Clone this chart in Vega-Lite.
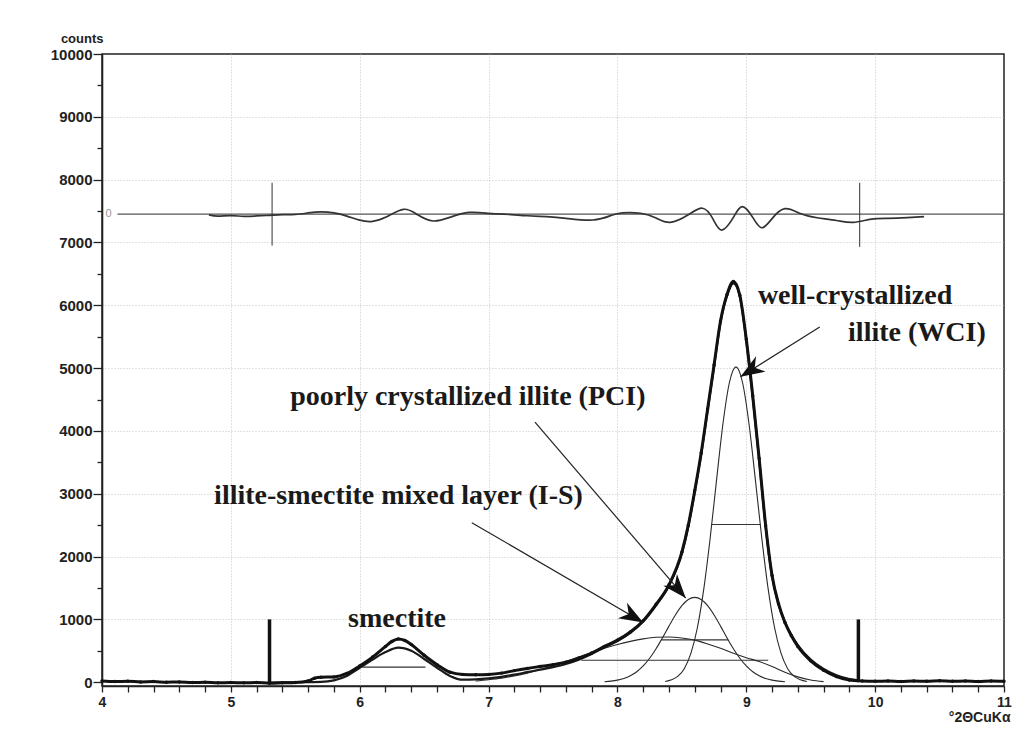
{
"$schema": "https://vega.github.io/schema/vega-lite/v6.json",
"width": 902, "height": 632,
"autosize": {"type": "none"},
"padding": {"left": 102, "top": 54, "right": 8, "bottom": 43},
"background": "white",
"config": {"view": {"stroke": "#222", "strokeWidth": 1.5}, "font": "Liberation Sans"},
"datasets": {
"obs": [{"t":4,"c":20},{"t":4.1,"c":10},{"t":4.2,"c":15},{"t":4.3,"c":5},{"t":4.4,"c":10},{"t":4.5,"c":0},{"t":4.6,"c":5},{"t":4.7,"c":-5},{"t":4.8,"c":0},{"t":4.9,"c":-10},{"t":5,"c":-5},{"t":5.1,"c":-10},{"t":5.2,"c":-5},{"t":5.3,"c":-15},{"t":5.4,"c":-10},{"t":5.5,"c":-5},{"t":5.6,"c":20},{"t":5.65,"c":65},{"t":5.7,"c":80},{"t":5.8,"c":85},{"t":5.9,"c":140},{"t":6,"c":260},{"t":6.1,"c":400},{"t":6.2,"c":570},{"t":6.25,"c":650},{"t":6.3,"c":690},{"t":6.35,"c":665},{"t":6.4,"c":600},{"t":6.5,"c":430},{"t":6.6,"c":280},{"t":6.7,"c":160},{"t":6.8,"c":125},{"t":6.9,"c":120},{"t":7,"c":125},{"t":7.1,"c":145},{"t":7.2,"c":185},{"t":7.3,"c":220},{"t":7.4,"c":250},{"t":7.5,"c":280},{"t":7.6,"c":320},{"t":7.7,"c":385},{"t":7.8,"c":465},{"t":7.9,"c":570},{"t":8,"c":670},{"t":8.1,"c":800},{"t":8.2,"c":980},{"t":8.3,"c":1240},{"t":8.4,"c":1550},{"t":8.5,"c":2070},{"t":8.55,"c":2500},{"t":8.6,"c":3050},{"t":8.65,"c":3650},{"t":8.7,"c":4350},{"t":8.75,"c":5050},{"t":8.8,"c":5750},{"t":8.85,"c":6170},{"t":8.9,"c":6380},{"t":8.95,"c":6160},{"t":9,"c":5460},{"t":9.05,"c":4560},{"t":9.1,"c":3560},{"t":9.15,"c":2500},{"t":9.2,"c":1700},{"t":9.25,"c":1250},{"t":9.3,"c":950},{"t":9.35,"c":740},{"t":9.4,"c":570},{"t":9.5,"c":340},{"t":9.6,"c":190},{"t":9.7,"c":90},{"t":9.8,"c":35},{"t":9.9,"c":20},{"t":10,"c":15},{"t":10.1,"c":20},{"t":10.2,"c":10},{"t":10.3,"c":20},{"t":10.4,"c":15},{"t":10.5,"c":25},{"t":10.6,"c":15},{"t":10.7,"c":20},{"t":10.8,"c":10},{"t":10.9,"c":20},{"t":11,"c":15}],
"fit": [{"t":5.3,"c":-5},{"t":5.5,"c":0},{"t":5.7,"c":5},{"t":5.8,"c":30},{"t":5.9,"c":100},{"t":6,"c":230},{"t":6.1,"c":360},{"t":6.2,"c":480},{"t":6.3,"c":550},{"t":6.4,"c":500},{"t":6.5,"c":370},{"t":6.6,"c":230},{"t":6.7,"c":100},{"t":6.8,"c":40},{"t":6.9,"c":45},{"t":7,"c":60},{"t":7.1,"c":85},{"t":7.2,"c":120},{"t":7.3,"c":160},{"t":7.4,"c":200},{"t":7.5,"c":240},{"t":7.6,"c":290},{"t":7.7,"c":360},{"t":7.8,"c":450},{"t":7.9,"c":555},{"t":8,"c":655},{"t":8.1,"c":785},{"t":8.2,"c":965},{"t":8.3,"c":1225},{"t":8.4,"c":1535},{"t":8.5,"c":2050},{"t":8.55,"c":2480},{"t":8.6,"c":3030},{"t":8.65,"c":3630},{"t":8.7,"c":4330},{"t":8.75,"c":5030},{"t":8.8,"c":5730},{"t":8.85,"c":6150},{"t":8.9,"c":6350},{"t":8.95,"c":6140},{"t":9,"c":5440},{"t":9.05,"c":4540},{"t":9.1,"c":3540},{"t":9.15,"c":2480},{"t":9.2,"c":1690},{"t":9.25,"c":1240},{"t":9.3,"c":960},{"t":9.35,"c":750},{"t":9.4,"c":590},{"t":9.5,"c":360},{"t":9.6,"c":210},{"t":9.7,"c":110},{"t":9.8,"c":50},{"t":9.87,"c":30}],
"comp": [
{"comp":"IS","t":6.9,"c":20},{"comp":"IS","t":7,"c":40},{"comp":"IS","t":7.1,"c":65},{"comp":"IS","t":7.2,"c":100},{"comp":"IS","t":7.3,"c":145},{"comp":"IS","t":7.4,"c":200},{"comp":"IS","t":7.5,"c":260},{"comp":"IS","t":7.6,"c":330},{"comp":"IS","t":7.7,"c":400},{"comp":"IS","t":7.8,"c":470},{"comp":"IS","t":7.9,"c":540},{"comp":"IS","t":8,"c":600},{"comp":"IS","t":8.1,"c":650},{"comp":"IS","t":8.2,"c":690},{"comp":"IS","t":8.3,"c":715},{"comp":"IS","t":8.4,"c":720},{"comp":"IS","t":8.5,"c":705},{"comp":"IS","t":8.6,"c":670},{"comp":"IS","t":8.7,"c":610},{"comp":"IS","t":8.8,"c":540},{"comp":"IS","t":8.9,"c":460},{"comp":"IS","t":9,"c":390},{"comp":"IS","t":9.1,"c":330},{"comp":"IS","t":9.2,"c":250},{"comp":"IS","t":9.3,"c":160},{"comp":"IS","t":9.4,"c":85},{"comp":"IS","t":9.5,"c":35},{"comp":"IS","t":9.6,"c":10},
{"comp":"PCI","t":7.9,"c":8},{"comp":"PCI","t":7.95,"c":17},{"comp":"PCI","t":8,"c":33},{"comp":"PCI","t":8.05,"c":59},{"comp":"PCI","t":8.1,"c":102},{"comp":"PCI","t":8.15,"c":167},{"comp":"PCI","t":8.2,"c":259},{"comp":"PCI","t":8.25,"c":381},{"comp":"PCI","t":8.3,"c":533},{"comp":"PCI","t":8.35,"c":708},{"comp":"PCI","t":8.4,"c":893},{"comp":"PCI","t":8.45,"c":1070},{"comp":"PCI","t":8.5,"c":1218},{"comp":"PCI","t":8.55,"c":1316},{"comp":"PCI","t":8.6,"c":1350},{"comp":"PCI","t":8.65,"c":1316},{"comp":"PCI","t":8.7,"c":1218},{"comp":"PCI","t":8.75,"c":1070},{"comp":"PCI","t":8.8,"c":893},{"comp":"PCI","t":8.85,"c":708},{"comp":"PCI","t":8.9,"c":533},{"comp":"PCI","t":8.95,"c":381},{"comp":"PCI","t":9,"c":259},{"comp":"PCI","t":9.05,"c":167},{"comp":"PCI","t":9.1,"c":102},{"comp":"PCI","t":9.15,"c":59},{"comp":"PCI","t":9.2,"c":33},{"comp":"PCI","t":9.25,"c":17},{"comp":"PCI","t":9.3,"c":8},
{"comp":"WCI","t":8.37,"c":11},{"comp":"WCI","t":8.42,"c":38},{"comp":"WCI","t":8.47,"c":96},{"comp":"WCI","t":8.52,"c":220},{"comp":"WCI","t":8.57,"c":459},{"comp":"WCI","t":8.62,"c":863},{"comp":"WCI","t":8.67,"c":1481},{"comp":"WCI","t":8.72,"c":2299},{"comp":"WCI","t":8.77,"c":3233},{"comp":"WCI","t":8.82,"c":4131},{"comp":"WCI","t":8.87,"c":4779},{"comp":"WCI","t":8.92,"c":5020},{"comp":"WCI","t":8.97,"c":4779},{"comp":"WCI","t":9.02,"c":4131},{"comp":"WCI","t":9.07,"c":3233},{"comp":"WCI","t":9.12,"c":2299},{"comp":"WCI","t":9.17,"c":1481},{"comp":"WCI","t":9.22,"c":863},{"comp":"WCI","t":9.27,"c":459},{"comp":"WCI","t":9.32,"c":220},{"comp":"WCI","t":9.37,"c":96},{"comp":"WCI","t":9.42,"c":38},{"comp":"WCI","t":9.47,"c":11}
],
"seg": [{"t":6.02,"t2":6.51,"c":240},{"t":7.72,"t2":9.17,"c":350},{"t":8.34,"t2":8.86,"c":675},{"t":8.73,"t2":9.11,"c":2510}],
"bars": [{"t":5.3,"c":0,"c2":1000},{"t":9.87,"c":0,"c2":1000}],
"resid": [{"t":4.83,"c":7440},{"t":4.9,"c":7420},{"t":5,"c":7428},{"t":5.1,"c":7415},{"t":5.2,"c":7422},{"t":5.3,"c":7432},{"t":5.4,"c":7442},{"t":5.5,"c":7446},{"t":5.6,"c":7470},{"t":5.7,"c":7488},{"t":5.8,"c":7470},{"t":5.9,"c":7420},{"t":6,"c":7355},{"t":6.09,"c":7333},{"t":6.2,"c":7400},{"t":6.34,"c":7528},{"t":6.45,"c":7440},{"t":6.57,"c":7342},{"t":6.7,"c":7400},{"t":6.85,"c":7478},{"t":7,"c":7462},{"t":7.08,"c":7455},{"t":7.2,"c":7440},{"t":7.3,"c":7425},{"t":7.45,"c":7410},{"t":7.6,"c":7385},{"t":7.81,"c":7358},{"t":7.95,"c":7430},{"t":8.04,"c":7472},{"t":8.18,"c":7465},{"t":8.3,"c":7390},{"t":8.41,"c":7320},{"t":8.55,"c":7440},{"t":8.66,"c":7545},{"t":8.74,"c":7380},{"t":8.81,"c":7198},{"t":8.9,"c":7400},{"t":8.97,"c":7571},{"t":9.05,"c":7400},{"t":9.12,"c":7234},{"t":9.2,"c":7380},{"t":9.3,"c":7538},{"t":9.42,"c":7460},{"t":9.55,"c":7393},{"t":9.7,"c":7350},{"t":9.83,"c":7319},{"t":9.97,"c":7372},{"t":10.1,"c":7385},{"t":10.25,"c":7395},{"t":10.38,"c":7410}],
"rbase": [{"t":4.12,"c":7450},{"t":11,"c":7450}],
"rvert": [{"t":5.32,"c":6950,"c2":7950},{"t":9.88,"c":6930,"c2":7950}],
"zero": [{"t":4.05,"c":7460,"txt":"0"}],
"labels": [{"t":5.91,"c":887,"txt":"smectite"},{"t":4.87,"c":2831,"txt":"illite-smectite mixed layer (I-S)"},{"t":5.46,"c":4416,"txt":"poorly crystallized illite (PCI)"},{"t":9.09,"c":6025,"txt":"well-crystallized"},{"t":9.79,"c":5430,"txt":"illite (WCI)"}],
"arrows": [{"t":7.36,"c":4140,"t2":8.53,"c2":1340},{"t":6.87,"c":2540,"t2":8.2,"c2":950},{"t":9.57,"c":5653,"t2":8.955,"c2":4863}],
"heads": [{"t":8.53,"c":1340,"name":"PCI"},{"t":8.2,"c":950,"name":"IS"},{"t":8.955,"c":4863,"name":"WCI"}]
},
"encoding": {
"x": {"field": "t", "type": "quantitative", "scale": {"domain": [4, 11], "nice": false, "zero": false},
 "axis": {"title": "°2ΘCuKα", "titleFont": "Liberation Sans", "titleFontWeight": "bold", "titleFontSize": 14, "titleColor": "#222", "titleAnchor": "end", "titleAlign": "right", "titleBaseline": "middle", "titleX": 908, "titleY": 31,
  "values": [4,4.2,4.4,4.6,4.8,5,5.2,5.4,5.6,5.8,6,6.2,6.4,6.6,6.8,7,7.2,7.4,7.6,7.8,8,8.2,8.4,8.6,8.8,9,9.2,9.4,9.6,9.8,10,10.2,10.4,10.6,10.8,11],
  "labelExpr": "abs(datum.value-round(datum.value))<0.01 ? format(datum.value,'d') : ''",
  "labelFont": "Liberation Sans", "labelFontWeight": "bold", "labelFontSize": 14, "labelColor": "#222", "labelPadding": 3, "labelFlush": false, "labelOverlap": false,
  "domainColor": "#222", "domainWidth": 1.6, "tickColor": "#222", "tickWidth": 1.3, "tickSize": 6,
  "grid": true, "gridColor": "#c4c4c4", "gridDash": [1, 2], "gridWidth": 1,
  "gridOpacity": {"condition": {"test": "abs(datum.value-round(datum.value))<0.01 && datum.value>4.5 && datum.value<10.5", "value": 1}, "value": 0}}},
"y": {"field": "c", "type": "quantitative", "scale": {"domain": [-60, 10000], "nice": false, "zero": false},
 "axis": {"title": "counts", "titleAngle": 0, "titleAlign": "right", "titleBaseline": "alphabetic", "titleX": 1, "titleY": -12, "titleFont": "Liberation Sans", "titleFontWeight": "bold", "titleFontSize": 13, "titleColor": "#222",
  "values": [0,500,1000,1500,2000,2500,3000,3500,4000,4500,5000,5500,6000,6500,7000,7500,8000,8500,9000,9500,10000],
  "labelExpr": "datum.value % 1000 === 0 ? format(datum.value,'d') : ''",
  "labelFont": "Liberation Sans", "labelFontWeight": "bold", "labelFontSize": 15, "labelColor": "#222", "labelPadding": 1, "labelOverlap": false, "labelFlush": false,
  "domainColor": "#222", "domainWidth": 1.6, "tickColor": "#222", "tickWidth": 1.3,
  "tickSize": {"condition": {"test": "datum.value % 1000 === 0", "value": 9}, "value": 5},
  "grid": true, "gridColor": "#c4c4c4", "gridDash": [1, 2], "gridWidth": 1,
  "gridOpacity": {"condition": {"test": "datum.value % 1000 === 0 && datum.value > 0 && datum.value < 10000", "value": 1}, "value": 0}}}
},
"layer": [
{"data": {"name": "comp"}, "mark": {"type": "line", "color": "#2a2a2a", "strokeWidth": 1.1, "interpolate": "monotone"}, "encoding": {"detail": {"field": "comp"}}},
{"data": {"name": "seg"}, "mark": {"type": "rule", "color": "#333", "strokeWidth": 1.1}, "encoding": {"x2": {"field": "t2"}}},
{"data": {"name": "fit"}, "mark": {"type": "line", "color": "#1a1a1a", "strokeWidth": 2.2, "interpolate": "monotone"}, "encoding": {}},
{"data": {"name": "obs"}, "mark": {"type": "line", "color": "#111", "strokeWidth": 3, "interpolate": "monotone"}, "encoding": {}},
{"data": {"name": "obs"}, "mark": {"type": "point", "filled": true, "size": 12, "color": "#111", "opacity": 1}, "encoding": {}},
{"data": {"name": "bars"}, "mark": {"type": "rule", "color": "#111", "strokeWidth": 3.5}, "encoding": {"y2": {"field": "c2"}}},
{"data": {"name": "rbase"}, "mark": {"type": "line", "color": "#555", "strokeWidth": 1.3}, "encoding": {}},
{"data": {"name": "resid"}, "mark": {"type": "line", "color": "#333", "strokeWidth": 1.7, "interpolate": "natural"}, "encoding": {}},
{"data": {"name": "rvert"}, "mark": {"type": "rule", "color": "#333", "strokeWidth": 1}, "encoding": {"y2": {"field": "c2"}}},
{"data": {"name": "zero"}, "mark": {"type": "text", "font": "Liberation Sans", "fontSize": 11, "color": "#999", "align": "center", "baseline": "middle"}, "encoding": {"text": {"field": "txt"}}},
{"data": {"name": "arrows"}, "mark": {"type": "rule", "color": "#222", "strokeWidth": 1.2}, "encoding": {"x2": {"field": "t2"}, "y2": {"field": "c2"}}},
{"data": {"name": "heads"}, "transform": [{"filter": "datum.name === 'PCI'"}], "mark": {"type": "point", "shape": "M0,0 L-2,-0.75 L-1.4,0 L-2,0.75 Z", "filled": true, "color": "#111", "opacity": 1, "size": 576, "angle": 49.4}, "encoding": {}},
{"data": {"name": "heads"}, "transform": [{"filter": "datum.name === 'IS'"}], "mark": {"type": "point", "shape": "M0,0 L-2,-0.75 L-1.4,0 L-2,0.75 Z", "filled": true, "color": "#111", "opacity": 1, "size": 576, "angle": 30.2}, "encoding": {}},
{"data": {"name": "heads"}, "transform": [{"filter": "datum.name === 'WCI'"}], "mark": {"type": "point", "shape": "M0,0 L-2,-0.75 L-1.4,0 L-2,0.75 Z", "filled": true, "color": "#111", "opacity": 1, "size": 576, "angle": 147.95}, "encoding": {}},
{"data": {"name": "labels"}, "mark": {"type": "text", "font": "Liberation Serif", "fontWeight": "bold", "fontSize": 28, "color": "#1a1a1a", "align": "left", "baseline": "alphabetic"}, "encoding": {"text": {"field": "txt"}}}
]
}
